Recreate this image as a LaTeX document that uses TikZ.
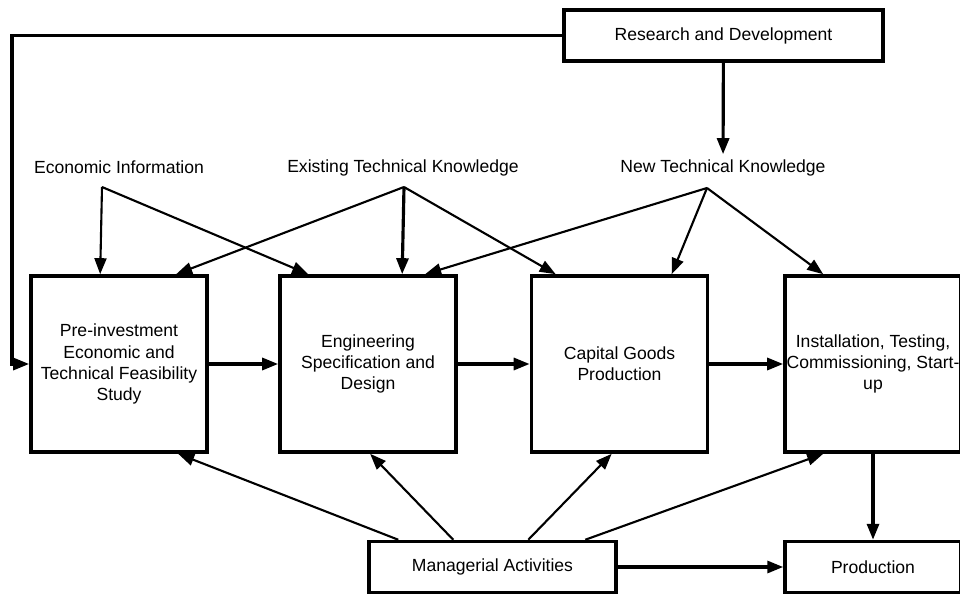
\documentclass[tikz,border=0pt]{standalone}
\usepackage{fontspec}
\setmainfont{Liberation Sans}
\usetikzlibrary{arrows.meta,calc}

\begin{document}
\begin{tikzpicture}[
  x=0.02cm, y=-0.02cm,
  font=\fontsize{10}{12}\selectfont,
  stage box/.style={draw, line width=2.1pt, inner sep=0pt, align=center,
    minimum width=3.52cm, minimum height=3.52cm},
  flat box/.style={draw, line width=2pt, inner sep=0pt, align=center,
    minimum height=1.02cm},
  info label/.style={inner sep=3pt},
  flow edge/.style={-{Triangle[length=0.32cm,width=0.24cm]}, line width=1.2pt},
  main edge/.style={-{Triangle[length=0.32cm,width=0.24cm]}, line width=1.8pt}
]
\useasboundingbox (0,0) rectangle (960,594);

\node[flat box, minimum width=6.38cm] (rd) at (723.5, 35.5) {Research and Development};
\node[info label] (econ) at (119, 167) {Economic Information};
\node[info label] (exist) at (403, 168) {Existing Technical Knowledge};
\node[info label] (new) at (723, 168) {New Technical Knowledge};
\coordinate (econfan) at (102, 187);
\coordinate (existfan) at (404, 187);
\coordinate (newfan) at (707, 188);
\coordinate (loop) at (12, 35.5);

\node[stage box] (pre) at (119, 364) {Pre-investment\\Economic and\\Technical Feasibility\\Study};
\node[stage box] (eng) at (368, 364) {Engineering\\Specification and\\Design};
\node[stage box] (cap) at (619.5, 364) {Capital Goods\\Production};
\node[stage box] (ins) at (873, 364) {Installation, Testing,\\Commissioning, Start-\\up};

\node[flat box, minimum width=4.94cm] (mgr) at (492.5, 567) {Managerial Activities};
\node[flat box, minimum width=3.52cm] (prod) at (873, 567) {Production};

\draw[main edge] (rd.west) -- (loop) |- (pre.west);
\draw[main edge] (rd) -- (new);

\draw[flow edge] (econfan) -- ($(pre.north west)+(71,0)$);
\draw[flow edge] (econfan) -- ($(eng.north west)+(30,0)$);
\draw[flow edge] (existfan) -- ($(pre.north west)+(147,0)$);
\draw[main edge] (existfan) -- ($(eng.north west)+(124,0)$);
\draw[flow edge] (existfan) -- ($(cap.north west)+(26,0)$);
\draw[flow edge] (newfan) -- ($(eng.north west)+(147,0)$);
\draw[flow edge] (newfan) -- ($(cap.north west)+(142,0)$);
\draw[flow edge] (newfan) -- ($(ins.north west)+(40,0)$);

\draw[main edge] (pre) -- (eng);
\draw[main edge] (eng) -- (cap);
\draw[main edge] (cap) -- (ins);

\draw[flow edge] ($(mgr.north west)+(31,0)$) -- ($(pre.south west)+(149,0)$);
\draw[flow edge] ($(mgr.north west)+(86,0)$) -- ($(eng.south west)+(92,0)$);
\draw[flow edge] ($(mgr.north west)+(161,0)$) -- ($(cap.south west)+(82,0)$);
\draw[flow edge] ($(mgr.north west)+(218,0)$) -- ($(ins.south west)+(40,0)$);

\draw[main edge] (mgr) -- (prod);
\draw[main edge] (ins) -- (prod);
\end{tikzpicture}
\end{document}
